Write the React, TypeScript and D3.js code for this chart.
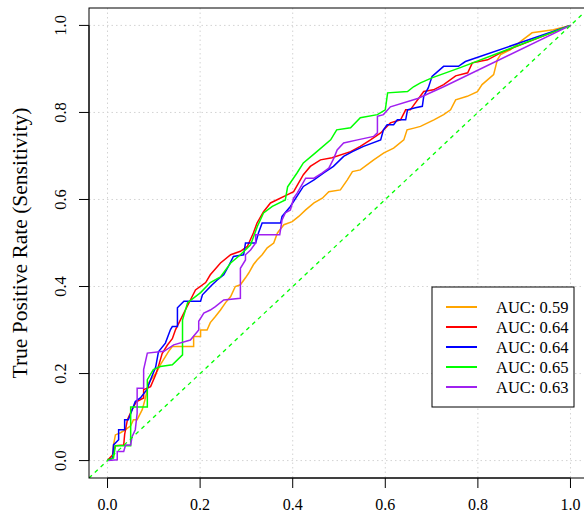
import React from 'react';
import * as d3 from 'd3';

// legend labels and colours, in plotting order
const seriesNames = ['AUC: 0.59', 'AUC: 0.64', 'AUC: 0.64', 'AUC: 0.65', 'AUC: 0.63'];
const seriesColors = ['#FFA500', '#FF0000', '#0000FF', '#00FF00', '#A020F0'];

const tickValues = [0, 0.2, 0.4, 0.6, 0.8, 1.0];
const tickLabels = ['0.0', '0.2', '0.4', '0.6', '0.8', '1.0'];
const yTitle = 'True Positive Rate (Sensitivity)';

// [false positive rate, true positive rate]
const rocOrange = [[0,0],[0.011,0.013],[0.013,0.036],[0.017,0.059],[0.028,0.064],[0.039,0.071],[0.050,0.080],[0.056,0.094],[0.064,0.094],[0.075,0.117],[0.082,0.144],[0.089,0.179],[0.099,0.193],[0.107,0.205],[0.114,0.220],[0.125,0.239],[0.132,0.251],[0.140,0.262],[0.186,0.262],[0.186,0.285],[0.201,0.285],[0.201,0.300],[0.215,0.300],[0.222,0.317],[0.233,0.331],[0.244,0.346],[0.255,0.363],[0.266,0.377],[0.276,0.400],[0.287,0.404],[0.298,0.420],[0.305,0.431],[0.315,0.450],[0.323,0.461],[0.334,0.473],[0.345,0.489],[0.359,0.500],[0.367,0.523],[0.381,0.542],[0.399,0.549],[0.413,0.561],[0.428,0.576],[0.446,0.592],[0.464,0.603],[0.478,0.618],[0.503,0.622],[0.518,0.645],[0.529,0.664],[0.546,0.668],[0.575,0.691],[0.597,0.707],[0.618,0.718],[0.640,0.737],[0.647,0.760],[0.662,0.764],[0.676,0.768],[0.705,0.783],[0.726,0.795],[0.741,0.806],[0.752,0.829],[0.777,0.837],[0.799,0.848],[0.809,0.864],[0.834,0.887],[0.842,0.921],[0.849,0.933],[0.870,0.944],[0.896,0.966],[0.917,0.983],[0.963,0.990],[1,1]];
const rocRed = [[0,0],[0.011,0.013],[0.017,0.034],[0.035,0.036],[0.037,0.060],[0.043,0.094],[0.053,0.117],[0.062,0.135],[0.078,0.144],[0.078,0.163],[0.093,0.170],[0.104,0.197],[0.112,0.224],[0.118,0.246],[0.129,0.265],[0.140,0.280],[0.147,0.301],[0.161,0.331],[0.179,0.369],[0.190,0.392],[0.212,0.409],[0.222,0.427],[0.244,0.454],[0.266,0.473],[0.287,0.481],[0.302,0.492],[0.315,0.523],[0.323,0.546],[0.337,0.572],[0.352,0.592],[0.389,0.611],[0.402,0.618],[0.423,0.657],[0.438,0.676],[0.460,0.691],[0.485,0.696],[0.525,0.710],[0.546,0.722],[0.568,0.737],[0.590,0.753],[0.611,0.776],[0.633,0.783],[0.644,0.806],[0.654,0.806],[0.683,0.848],[0.704,0.852],[0.726,0.864],[0.752,0.884],[0.778,0.891],[0.788,0.914],[0.821,0.921],[0.849,0.937],[0.877,0.949],[1,1]];
const rocBlue = [[0,0],[0.011,0.006],[0.013,0.036],[0.024,0.048],[0.024,0.071],[0.037,0.071],[0.037,0.094],[0.045,0.094],[0.060,0.136],[0.071,0.144],[0.085,0.163],[0.093,0.186],[0.104,0.215],[0.110,0.250],[0.125,0.270],[0.136,0.301],[0.140,0.308],[0.151,0.308],[0.151,0.351],[0.165,0.366],[0.201,0.366],[0.205,0.381],[0.215,0.392],[0.226,0.404],[0.237,0.415],[0.251,0.427],[0.261,0.446],[0.272,0.469],[0.294,0.473],[0.298,0.500],[0.320,0.500],[0.326,0.523],[0.334,0.546],[0.374,0.546],[0.377,0.561],[0.395,0.584],[0.423,0.630],[0.446,0.645],[0.467,0.661],[0.488,0.676],[0.510,0.699],[0.529,0.710],[0.553,0.722],[0.590,0.737],[0.596,0.760],[0.604,0.772],[0.618,0.772],[0.626,0.783],[0.644,0.783],[0.648,0.806],[0.665,0.811],[0.680,0.814],[0.683,0.837],[0.693,0.857],[0.701,0.883],[0.726,0.906],[0.758,0.906],[0.773,0.917],[0.795,0.925],[1,1]];
const rocGreen = [[0,0],[0.013,0.006],[0.017,0.034],[0.050,0.034],[0.050,0.123],[0.086,0.123],[0.086,0.186],[0.099,0.209],[0.114,0.216],[0.140,0.220],[0.162,0.243],[0.162,0.323],[0.173,0.363],[0.201,0.386],[0.222,0.409],[0.244,0.422],[0.266,0.454],[0.287,0.473],[0.309,0.496],[0.324,0.539],[0.337,0.569],[0.356,0.584],[0.384,0.599],[0.389,0.629],[0.410,0.662],[0.423,0.684],[0.449,0.707],[0.482,0.737],[0.495,0.760],[0.525,0.765],[0.546,0.788],[0.583,0.795],[0.600,0.806],[0.605,0.845],[0.648,0.848],[0.661,0.859],[0.676,0.868],[0.702,0.880],[0.762,0.903],[1,1]];
const rocPurple = [[0,0],[0.021,0.002],[0.021,0.021],[0.035,0.021],[0.039,0.036],[0.050,0.036],[0.053,0.055],[0.060,0.071],[0.064,0.109],[0.064,0.166],[0.078,0.166],[0.078,0.209],[0.086,0.247],[0.122,0.251],[0.143,0.266],[0.179,0.277],[0.197,0.300],[0.197,0.320],[0.208,0.339],[0.222,0.346],[0.233,0.354],[0.251,0.369],[0.287,0.373],[0.287,0.442],[0.298,0.461],[0.298,0.473],[0.309,0.484],[0.320,0.500],[0.320,0.519],[0.372,0.519],[0.377,0.553],[0.384,0.569],[0.395,0.576],[0.402,0.603],[0.410,0.615],[0.428,0.649],[0.446,0.649],[0.464,0.661],[0.478,0.672],[0.489,0.695],[0.496,0.714],[0.510,0.730],[0.540,0.737],[0.575,0.745],[0.583,0.753],[0.583,0.791],[0.596,0.795],[0.611,0.813],[0.670,0.832],[0.726,0.859],[1,1]];

const curves = [rocOrange, rocRed, rocBlue, rocGreen, rocPurple];

const W = 584, H = 515;
const left = 89, top = 8, right = 589, bottom = 478;
const font = '"Liberation Serif", "Times New Roman", serif';

export default function App() {
  const x = d3.scaleLinear().domain([-0.04, 1.04]).range([left, right]);
  const y = d3.scaleLinear().domain([-0.04, 1.04]).range([bottom, top]);
  const line = d3.line<number[]>().x(d => x(d[0])).y(d => y(d[1]));

  const legX = 432, legY = 287, legW = 142, legH = 120;

  return (
    <svg width={W} height={H} style={{ position: 'absolute', left: 0, top: 0 }} fontFamily={font}>
      <rect width={W} height={H} fill="#fff" />
      <defs>
        <clipPath id="plot">
          <rect x={left} y={top} width={right - left} height={bottom - top} />
        </clipPath>
      </defs>

      {/* grid */}
      <g stroke="#D3D3D3" strokeDasharray="1.5,3" strokeWidth={1}>
        {tickValues.map((t, i) => (
          <g key={i}>
            <line x1={x(t)} x2={x(t)} y1={top} y2={bottom} />
            <line x1={left} x2={right} y1={y(t)} y2={y(t)} />
          </g>
        ))}
      </g>

      <g clipPath="url(#plot)">
        {curves.map((c, i) => (
          <path key={i} d={line(c) || ''} fill="none" stroke={seriesColors[i]} strokeWidth={1.5} />
        ))}
        <line x1={x(-0.04)} y1={y(-0.04)} x2={x(1.04)} y2={y(1.04)}
          stroke="#00FF00" strokeWidth={1.3} strokeDasharray="4,4" />
      </g>

      {/* frame */}
      <rect x={left} y={top} width={right - left} height={bottom - top} fill="none" stroke="#000" strokeWidth={1} />

      {/* x axis */}
      <g>
        <line x1={x(0)} x2={x(1)} y1={bottom} y2={bottom} stroke="#000" />
        {tickValues.map((t, i) => (
          <g key={i}>
            <line x1={x(t)} x2={x(t)} y1={bottom} y2={bottom + 10} stroke="#000" />
            <text x={x(t)} y={510} fontSize={16} textAnchor="middle" fill="#000">{tickLabels[i]}</text>
          </g>
        ))}
      </g>

      {/* y axis */}
      <g>
        <line x1={left} x2={left} y1={y(0)} y2={y(1)} stroke="#000" />
        {tickValues.map((t, i) => (
          <g key={i}>
            <line x1={left - 10} x2={left} y1={y(t)} y2={y(t)} stroke="#000" />
            <text transform={`translate(66,${y(t)}) rotate(-90)`} fontSize={16.5} textAnchor="middle" fill="#000">{tickLabels[i]}</text>
          </g>
        ))}
        <text transform={`translate(27,${(top + bottom) / 2}) rotate(-90)`} fontSize={21.5} textAnchor="middle" fill="#000">{yTitle}</text>
      </g>

      {/* legend */}
      <g>
        <rect x={legX} y={legY} width={legW} height={legH} fill="#fff" stroke="#000" strokeWidth={1} />
        {seriesNames.map((n, i) => {
          const ry = legY + 20 + i * 20;
          return (
            <g key={i}>
              <line x1={legX + 14} x2={legX + 45} y1={ry} y2={ry} stroke={seriesColors[i]} strokeWidth={2} />
              <text x={legX + 64} y={ry} dy="0.35em" fontSize={16.5} fill="#000">{n}</text>
            </g>
          );
        })}
      </g>
    </svg>
  );
}
